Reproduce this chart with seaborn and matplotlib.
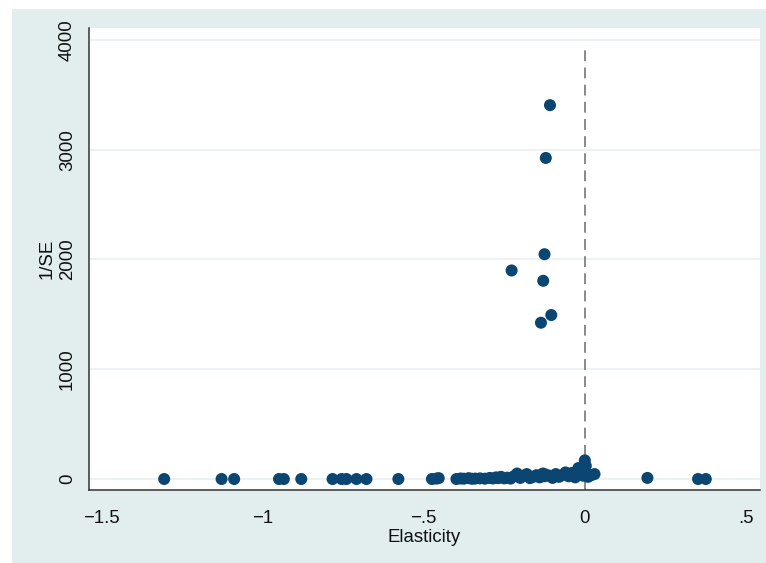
import numpy as np
import pandas as pd
import seaborn as sns
import matplotlib.pyplot as plt
from matplotlib.patches import Rectangle

sns.set_style('white')
plt.rcParams['font.family'] = ['Liberation Sans', 'DejaVu Sans']

# elasticity estimates and their precision (1/SE)
# high precision estimates
elast_hi = [-0.108, -0.121, -0.125, -0.227, -0.129, -0.104, -0.136]
prec_hi = [3406, 2925, 2048, 1900, 1806, 1494, 1424]

# spread-out low precision estimates
elast_lo = [-1.304, -1.126, -1.087, -0.948, -0.933, -0.879, -0.782, -0.754,
            -0.739, -0.708, -0.677, -0.578, -0.474, -0.460, -0.453, 0.194,
            0.351, 0.375]
prec_lo = [0, 0, 0, 0, 0, 0, 0, 0,
           0, 0, 0, 0, 0, 4, 8, 10,
           0, 0]

# dense cluster near zero
elast_cl = [-0.398, -0.385, -0.375, -0.36, -0.35, -0.34, -0.325, -0.31,
            -0.295, -0.285, -0.275, -0.268, -0.26, -0.25, -0.24, -0.23,
            -0.22, -0.21, -0.2, -0.19, -0.18, -0.17, -0.16, -0.15, -0.14,
            -0.13, -0.125, -0.12, -0.11, -0.1, -0.09, -0.08, -0.07, -0.06,
            -0.05, -0.04, -0.03, -0.02, -0.01, -0.005, 0.0, 0.003, 0.005,
            0.01, 0.02, 0.03]
prec_cl = [0, 5, 3, 8, 2, 4, 6, 3,
           10, 5, 15, 8, 20, 6, 12, 4,
           25, 50, 10, 30, 45, 8, 20, 35, 15,
           50, 25, 40, 30, 10, 45, 20, 35, 60,
           25, 55, 15, 100, 50, 30, 170, 120, 60,
           20, 35, 45]

df = pd.DataFrame({
    'Elasticity': elast_lo + elast_cl + elast_hi,
    'prec': prec_lo + prec_cl + prec_hi,
})

xticks = [-1.5, -1, -0.5, 0, 0.5]
xticklabels = ['\u22121.5', '\u22121', '\u2212.5', '0', '.5']
yticks = [0, 1000, 2000, 3000, 4000]

bg = '#e2eeee'
navy = '#0b4672'

fig = plt.figure(figsize=(7.66, 5.63), dpi=100, facecolor='white')
fig.patches.append(Rectangle((12 / 766, 0), 1, 1 - 9 / 563, transform=fig.transFigure,
                             facecolor=bg, edgecolor='none', zorder=-10))
ax = fig.add_axes([89 / 766, 1 - 490 / 563, 671 / 766, 462 / 563])
ax.set_facecolor('white')

for y in yticks:
    ax.axhline(y, color='#e6f0f1', lw=1.2, zorder=0)

ax.axvline(0, ymin=0, ymax=0.965, color='#808080', lw=1.3, ls=(0, (6, 3.5)), zorder=1)

sns.scatterplot(data=df, x='Elasticity', y='prec', ax=ax, color=navy, s=75,
                edgecolor='none', linewidth=0, zorder=3, legend=False)

ax.set_xlim(-1.537, 0.543)
ax.set_ylim(-100, 4109)
ax.set_xticks(xticks)
ax.set_xticklabels(xticklabels)
ax.set_yticks(yticks)
ax.set_yticklabels([str(v) for v in yticks], rotation=90, va='center')

for side in ['top', 'right']:
    ax.spines[side].set_visible(False)
for side in ['left', 'bottom']:
    ax.spines[side].set_color('#333333')
    ax.spines[side].set_linewidth(1.1)

ax.tick_params(axis='both', direction='out', length=6, width=1, color='#333333',
               labelsize=13.4, labelcolor='#111111')
ax.tick_params(axis='x', pad=8.5)
ax.tick_params(axis='y', pad=3.5)
ax.set_xlabel('Elasticity', fontsize=13.4, color='#111111', labelpad=1.5)
ax.set_ylabel('1/SE', fontsize=13.4, color='#111111', labelpad=2)

fig.savefig('out.png', dpi=100, facecolor=fig.get_facecolor())
